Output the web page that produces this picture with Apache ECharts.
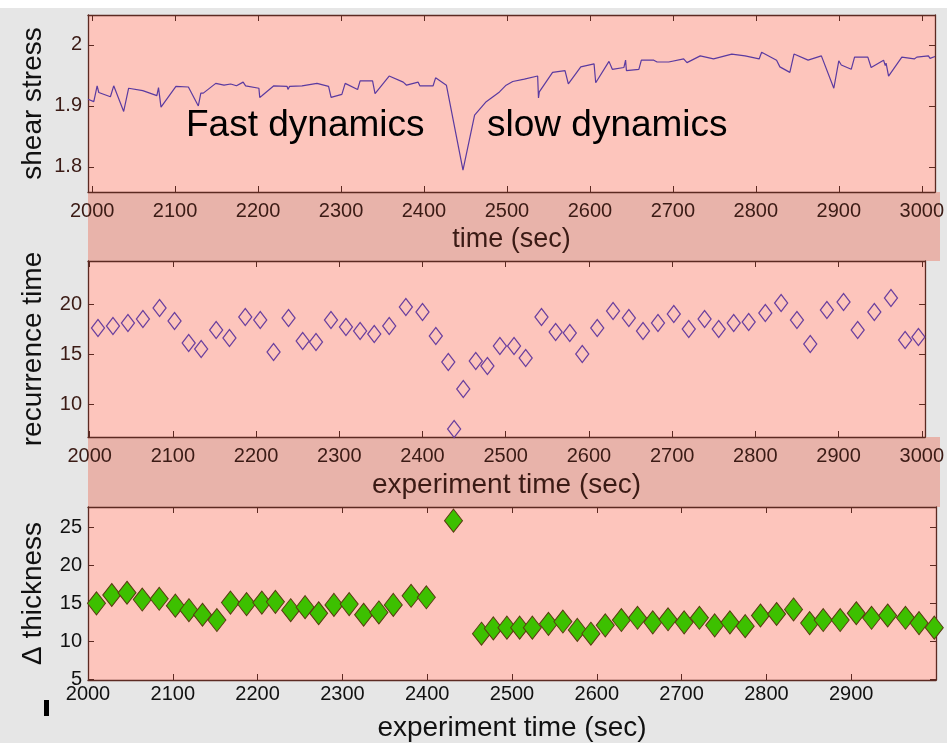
<!DOCTYPE html>
<html lang="en">
<head>
<meta charset="UTF-8">
<title>shear stress / recurrence / thickness</title>
<style>
  html, body { margin: 0; padding: 0; background: #fff; }
  #main { width: 947px; height: 743px; }
</style>
</head>
<body>
<div id="main"></div>
<script src="https://cdn.jsdelivr.net/npm/echarts@6/dist/echarts.min.js"></script>
<script>
// top panel: shear stress trace
var stressTime = [1995, 2002, 2006, 2008, 2022, 2026, 2038, 2044, 2061, 2078, 2080, 2083, 2101, 2116, 2128, 2131, 2134,
  2149, 2159, 2167, 2174, 2182, 2185, 2201, 2202, 2205, 2219, 2235, 2236, 2238, 2253, 2271, 2285, 2286, 2288, 2301,
  2305, 2320, 2323, 2338, 2341, 2358, 2375, 2379, 2393, 2395, 2396, 2411, 2414, 2427, 2447, 2461, 2475, 2491, 2499,
  2507, 2521, 2537, 2538, 2539, 2555, 2570, 2574, 2589, 2605, 2607, 2623, 2627, 2641, 2643, 2644, 2659, 2662, 2677,
  2681, 2695, 2696, 2697, 2713, 2717, 2733, 2749, 2771, 2787, 2804, 2807, 2825, 2829, 2841, 2846, 2863, 2879, 2894,
  2900, 2903, 2915, 2919, 2935, 2939, 2954, 2956, 2957, 2960, 2976, 2991, 2994, 3008, 3010, 3016];
var stressVal = [1.911, 1.907, 1.933, 1.922, 1.915, 1.933, 1.891, 1.929, 1.925, 1.917, 1.930, 1.898, 1.932, 1.931, 1.900, 1.921, 1.921,
  1.937, 1.934, 1.936, 1.933, 1.939, 1.933, 1.929, 1.914, 1.917, 1.933, 1.932, 1.927, 1.932, 1.933, 1.937, 1.932, 1.934, 1.914, 1.919,
  1.937, 1.927, 1.941, 1.941, 1.920, 1.949, 1.939, 1.934, 1.939, 1.933, 1.936, 1.933, 1.946, 1.934, 1.795, 1.885, 1.907, 1.923, 1.934,
  1.940, 1.944, 1.949, 1.913, 1.923, 1.955, 1.958, 1.936, 1.964, 1.969, 1.938, 1.973, 1.960, 1.963, 1.975, 1.958, 1.960, 1.975, 1.975,
  1.972, 1.972, 1.970, 1.973, 1.977, 1.971, 1.982, 1.977, 1.985, 1.982, 1.977, 1.988, 1.975, 1.964, 1.955, 1.985, 1.975, 1.982, 1.929,
  1.974, 1.967, 1.960, 1.980, 1.980, 1.963, 1.975, 1.966, 1.970, 1.949, 1.980, 1.977, 1.980, 1.982, 1.978, 1.981];

// middle panel: recurrence time
var recTime = [2010, 2028, 2046, 2064, 2084, 2102, 2119, 2134, 2152, 2168, 2187, 2205, 2221, 2239, 2256, 2272, 2290, 2308,
  2325, 2342, 2360, 2380, 2400, 2416, 2431, 2438, 2449, 2464, 2478, 2493, 2510, 2524, 2543, 2560, 2577, 2592, 2610,
  2629, 2648, 2665, 2683, 2702, 2720, 2739, 2756, 2774, 2792, 2812, 2831, 2850, 2866, 2886, 2906, 2923, 2943, 2963,
  2980, 2996];
var recVal = [17.6, 17.8, 18.1, 18.5, 19.6, 18.3, 16.1, 15.5, 17.4, 16.6, 18.7, 18.4, 15.2, 18.6, 16.3, 16.2, 18.4, 17.7,
  17.3, 17.0, 17.8, 19.7, 19.2, 16.8, 14.2, 7.5, 11.5, 14.3, 13.8, 15.8, 15.8, 14.6, 18.7, 17.2, 17.1, 15.0, 17.6,
  19.3, 18.6, 17.3, 18.1, 19.0, 17.5, 18.5, 17.5, 18.1, 18.2, 19.1, 20.1, 18.4, 16.0, 19.4, 20.2, 17.4, 19.2, 20.6,
  16.4, 16.7];

// bottom panel: delta thickness
var thickTime = [2010, 2028, 2046, 2064, 2084, 2103, 2119, 2135, 2152, 2168, 2187, 2205, 2221, 2239, 2256, 2272, 2290, 2308,
  2325, 2343, 2360, 2381, 2399, 2431, 2464, 2478, 2494, 2509, 2524, 2543, 2560, 2577, 2593, 2610, 2629, 2648, 2666,
  2684, 2703, 2721, 2739, 2757, 2775, 2793, 2812, 2832, 2851, 2867, 2887, 2906, 2924, 2943, 2964, 2980, 2998];
var thickVal = [15.0, 16.1, 16.4, 15.5, 15.6, 14.7, 14.1, 13.5, 12.8, 15.1, 14.9, 15.1, 15.2, 14.1, 14.5, 13.7, 14.8, 14.9,
  13.5, 13.8, 14.8, 16.0, 15.8, 25.9, 11.0, 11.7, 11.8, 11.8, 11.8, 12.3, 12.6, 11.5, 11.0, 12.1, 12.8, 13.1, 12.5,
  12.9, 12.5, 13.1, 12.1, 12.5, 12.0, 13.4, 13.6, 14.2, 12.4, 12.8, 12.8, 13.7, 13.1, 13.4, 13.1, 12.4, 11.8];

var timeTicks = [2000, 2100, 2200, 2300, 2400, 2500, 2600, 2700, 2800, 2900, 3000];
var timeTicksBottom = [2000, 2100, 2200, 2300, 2400, 2500, 2600, 2700, 2800, 2900];
var stressTicks = [1.8, 1.9, 2];
var recTicks = [10, 15, 20];
var thickTicks = [5, 10, 15, 20, 25];

function zip(a, b) { return a.map(function (v, i) { return [v, b[i]]; }); }

var plotPink = '#fdc5bc';
var bandPink = '#e8b3aa';
var axisCol = '#5c2a22';
var labCol = '#3b1b15';
var tickFont = 'Liberation Sans Narrow, Liberation Sans, Arial, sans-serif';
var titleFont = 'Liberation Sans, Arial, sans-serif';

function plain(v) { return String(v); }

function xAxis(grid, min, max, ticks, labels, name, pos, labelColor, margin, nameSize) {
  var top = pos === 'top';
  return {
    type: 'value', gridIndex: grid, min: min, max: max, position: pos,
    name: top ? '' : name, nameLocation: 'middle', nameGap: 34, nameMoveOverlap: false,
    nameTextStyle: { fontFamily: titleFont, fontSize: nameSize || 27, color: labelColor },
    axisLine: { show: true, onZero: false, lineStyle: { color: axisCol, width: 1.3 } },
    axisTick: { show: true, inside: true, length: 6, customValues: ticks, lineStyle: { color: axisCol } },
    axisLabel: { show: !top, customValues: labels, formatter: plain, margin: margin, fontFamily: tickFont, fontSize: 20, color: labelColor },
    splitLine: { show: false }
  };
}
function yAxis(grid, min, max, ticks, name, pos, labelColor) {
  var right = pos === 'right';
  return {
    type: 'value', gridIndex: grid, min: min, max: max, position: pos,
    name: right ? '' : name, nameLocation: 'middle', nameGap: 41, nameRotate: 90, nameMoveOverlap: false,
    nameTextStyle: { fontFamily: titleFont, fontSize: 28, color: '#111' },
    axisLine: { show: true, onZero: false, lineStyle: { color: axisCol, width: 1.3 } },
    axisTick: { show: true, inside: true, length: 6, customValues: ticks, lineStyle: { color: axisCol } },
    axisLabel: { show: !right, customValues: ticks, formatter: plain, margin: 6, fontFamily: tickFont, fontSize: 20, color: labelColor },
    splitLine: { show: false }
  };
}

var chart = echarts.init(document.getElementById('main'));
chart.setOption({
  backgroundColor: '#e6e6e6',
  animation: false,
  grid: [
    { left: 88, top: 15, width: 848, height: 177, show: true, backgroundColor: plotPink, borderWidth: 0 },
    { left: 88, top: 261, width: 847, height: 176, show: true, backgroundColor: plotPink, borderWidth: 0 },
    { left: 88, top: 507, width: 848, height: 176, show: true, backgroundColor: plotPink, borderWidth: 0 }
  ],
  graphic: [
    { type: 'rect', shape: { x: 0, y: 0, width: 947, height: 8 }, style: { fill: '#fff' }, z: -1 },
    { type: 'rect', shape: { x: 88, y: 192, width: 852, height: 69 }, style: { fill: bandPink }, z: -1 },
    { type: 'rect', shape: { x: 88, y: 437, width: 852, height: 70 }, style: { fill: bandPink }, z: -1 },
    { type: 'rect', shape: { x: 44, y: 700, width: 5, height: 16 }, style: { fill: '#000' } },
    { type: 'text', x: 186, y: 126, style: { text: 'Fast dynamics', font: '37px Liberation Sans, Arial, sans-serif', fill: '#000', verticalAlign: 'middle' } },
    { type: 'text', x: 487, y: 126, style: { text: 'slow dynamics', font: '37px Liberation Sans, Arial, sans-serif', fill: '#000', verticalAlign: 'middle' } }
  ],
  xAxis: [
    xAxis(0, 1995, 3016, timeTicks, timeTicks, 'time (sec)', 'bottom', labCol, 9, 27),
    xAxis(0, 1995, 3016, timeTicks, timeTicks, '', 'top', labCol, 9),
    xAxis(1, 1998, 3004, timeTicks, timeTicks, 'experiment time (sec)', 'bottom', labCol, 9, 28),
    xAxis(1, 1998, 3004, timeTicks, timeTicks, '', 'top', labCol, 9),
    xAxis(2, 2000, 3000, timeTicksBottom, timeTicksBottom, 'experiment time (sec)', 'bottom', '#111', 4, 28),
    xAxis(2, 2000, 3000, timeTicksBottom, timeTicksBottom, '', 'top', '#111', 4)
  ],
  yAxis: [
    yAxis(0, 1.759, 2.049, stressTicks, 'shear stress', 'left', labCol),
    yAxis(0, 1.759, 2.049, stressTicks, '', 'right', labCol),
    yAxis(1, 6.7, 24.3, recTicks, 'recurrence time', 'left', labCol),
    yAxis(1, 6.7, 24.3, recTicks, '', 'right', labCol),
    yAxis(2, 4.9, 27.7, thickTicks, '\u0394 thickness', 'left', '#111'),
    yAxis(2, 4.9, 27.7, thickTicks, '', 'right', '#111')
  ],
  series: [
    {
      type: 'line', xAxisIndex: 0, yAxisIndex: 0, data: zip(stressTime, stressVal),
      showSymbol: false, lineStyle: { color: '#5a3aa0', width: 1.2 }
    },
    {
      type: 'scatter', xAxisIndex: 2, yAxisIndex: 2, data: zip(recTime, recVal),
      symbol: 'diamond', symbolSize: [13, 17],
      itemStyle: { color: 'rgba(0,0,0,0)', borderColor: '#6a3f9e', borderWidth: 1.3, opacity: 1 }
    },
    {
      type: 'scatter', xAxisIndex: 4, yAxisIndex: 4, data: zip(thickTime, thickVal),
      symbol: 'diamond', symbolSize: [18, 23],
      itemStyle: { color: '#3dc000', borderColor: '#5a3a12', borderWidth: 1, opacity: 1 }
    }
  ]
});
</script>
</body>
</html>
